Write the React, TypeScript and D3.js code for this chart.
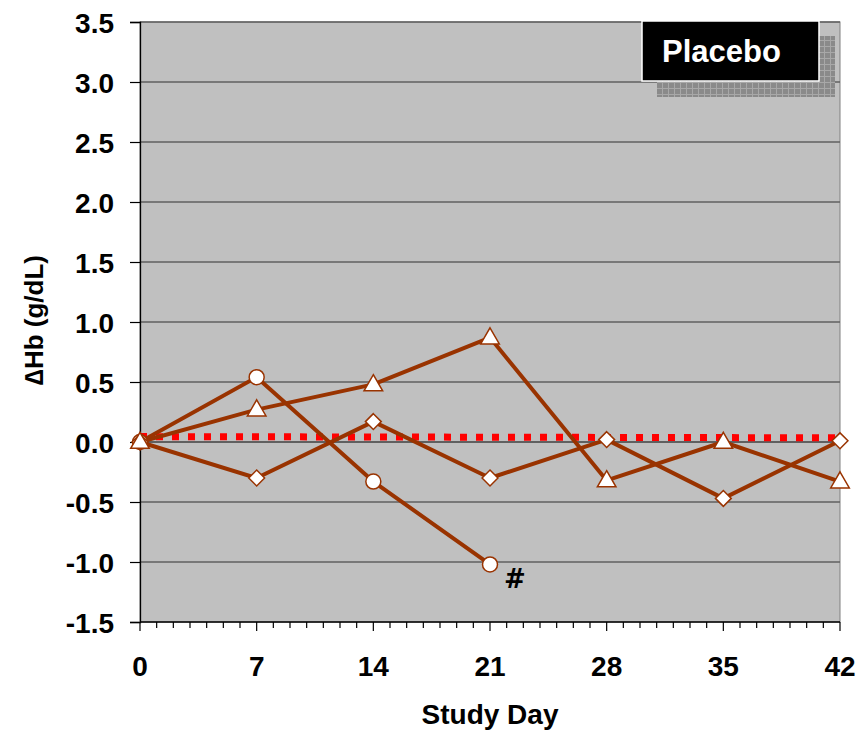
import React, { useRef, useEffect } from 'react';
import * as d3 from 'd3';

// study days and series (change in Hb, g/dL)
const days = [0, 7, 14, 21, 28, 35, 42];
const circleSeries = [0, 0.54, -0.33, -1.02];
const triangleSeries = [0, 0.27, 0.48, 0.87, -0.32, 0.0, -0.33];
const diamondSeries = [0, -0.3, 0.17, -0.3, 0.02, -0.47, 0.01];
const refLine = [0.045, 0.035]; // red dotted baseline, day 0 -> day 42
const yTicks = [-1.5, -1.0, -0.5, 0.0, 0.5, 1.0, 1.5, 2.0, 2.5, 3.0, 3.5];
const minorDays = d3.range(0, 43, 1);

const BROWN = '#993300';
const FONT = 'Liberation Sans, Arial, sans-serif';

const App = () => {
  const svgRef = useRef<SVGSVGElement>(null);

  useEffect(() => {
    const width = 857;
    const height = 731;
    const margin = { top: 22, right: 17, bottom: 109, left: 140 };
    const innerW = width - margin.left - margin.right;
    const innerH = height - margin.top - margin.bottom;

    const svg = d3.select(svgRef.current)
      .attr('width', width)
      .attr('height', height)
      .html('');

    const x = d3.scaleLinear().domain([0, 42]).range([0, innerW]);
    const y = d3.scaleLinear().domain([-1.5, 3.5]).range([innerH, 0]);

    const defs = svg.append('defs');
    const pat = defs.append('pattern')
      .attr('id', 'shadowGrid')
      .attr('width', 6).attr('height', 6)
      .attr('patternUnits', 'userSpaceOnUse');
    pat.append('rect').attr('width', 6).attr('height', 6).attr('fill', '#8a8a8a');
    pat.append('path').attr('d', 'M0 0.5H6M0.5 0V6').attr('stroke', '#a8a8a8').attr('stroke-width', 1);

    const g = svg.append('g').attr('transform', `translate(${margin.left},${margin.top})`);

    // --- plot background ---
    g.append('rect')
      .attr('width', innerW).attr('height', innerH)
      .attr('fill', '#c0c0c0')
      .attr('stroke', '#808080');

    // --- gridlines ---
    g.selectAll('.grid')
      .data(yTicks.filter(t => t !== 0 && t !== -1.5))
      .enter().append('line')
      .attr('x1', 0).attr('x2', innerW)
      .attr('y1', d => y(d)).attr('y2', d => y(d))
      .attr('stroke', '#606060').attr('stroke-width', 1.3);

    g.append('line')
      .attr('x1', 0).attr('x2', innerW)
      .attr('y1', y(0)).attr('y2', y(0))
      .attr('stroke', '#000').attr('stroke-width', 1.2);

    // --- legend box with shadow ---
    const lg = g.append('g');
    lg.append('rect')
      .attr('x', 517).attr('y', 14).attr('width', 178).attr('height', 61)
      .attr('fill', 'url(#shadowGrid)');
    lg.append('rect')
      .attr('x', 502).attr('y', -1).attr('width', 177).attr('height', 60)
      .attr('fill', '#000').attr('stroke', '#fff').attr('stroke-width', 1.5);
    lg.append('text')
      .attr('x', 522).attr('y', 40)
      .attr('fill', '#fff')
      .attr('font-family', FONT)
      .attr('font-weight', 'bold')
      .attr('font-size', 31)
      .text('Placebo');

    // --- axes ---
    const yAxis = d3.axisLeft(y).tickValues(yTicks).tickSize(10).tickPadding(16)
      .tickFormat(d => (d as number).toFixed(1));
    const ya = g.append('g').call(yAxis);
    ya.select('.domain').attr('stroke', '#000').attr('stroke-width', 1.3);
    ya.selectAll('.tick line').attr('stroke', '#000').attr('stroke-width', 1.2);
    ya.selectAll('text')
      .attr('font-family', FONT)
      .attr('font-weight', 'bold').attr('font-size', 28).attr('fill', '#000')
      .attr('dy', '0.36em');

    const xa = g.append('g').attr('transform', `translate(0,${innerH})`);
    xa.append('line').attr('x1', 0).attr('x2', innerW).attr('stroke', '#000').attr('stroke-width', 1.5);
    xa.selectAll('.minor')
      .data(minorDays)
      .enter().append('line')
      .attr('x1', d => x(d)).attr('x2', d => x(d))
      .attr('y1', 0).attr('y2', d => (d % 7 === 0 ? 9 : 6))
      .attr('stroke', '#000').attr('stroke-width', 1.2);
    xa.selectAll('.lbl')
      .data(days)
      .enter().append('text')
      .attr('x', d => x(d)).attr('y', 54)
      .attr('text-anchor', 'middle')
      .attr('font-family', FONT)
      .attr('font-weight', 'bold').attr('font-size', 28)
      .text(d => d);

    // --- axis titles ---
    svg.append('text')
      .attr('x', 490).attr('y', 724)
      .attr('text-anchor', 'middle')
      .attr('font-family', FONT)
      .attr('font-weight', 'bold').attr('font-size', 28)
      .text('Study Day');

    svg.append('text')
      .attr('transform', `translate(43,320) rotate(-90)`)
      .attr('text-anchor', 'middle')
      .attr('font-family', FONT)
      .attr('font-weight', 'bold').attr('font-size', 26)
      .text('\u2206Hb (g/dL)');

    // --- red dotted reference line ---
    g.append('line')
      .attr('x1', x(0)).attr('x2', x(42))
      .attr('y1', y(refLine[0])).attr('y2', y(refLine[1]))
      .attr('stroke', '#ff0000').attr('stroke-width', 7)
      .attr('stroke-dasharray', '7 9');

    // --- series lines ---
    const line = d3.line<number>().x((_, i) => x(days[i])).y(d => y(d));
    [diamondSeries, triangleSeries, circleSeries].forEach(s => {
      g.append('path')
        .attr('d', line(s))
        .attr('fill', 'none')
        .attr('stroke', BROWN)
        .attr('stroke-width', 4)
        .attr('stroke-linejoin', 'round');
    });

    // --- markers ---
    const diamond = d3.symbol().type(d3.symbolDiamond2).size(160);
    const triangle = d3.symbol().type(d3.symbolTriangle).size(150);

    g.selectAll('.circ')
      .data(circleSeries)
      .enter().append('circle')
      .attr('cx', (_, i) => x(days[i])).attr('cy', d => y(d))
      .attr('r', 7.5)
      .attr('fill', '#fff').attr('stroke', BROWN).attr('stroke-width', 1.5);

    g.selectAll('.diam')
      .data(diamondSeries)
      .enter().append('path')
      .attr('d', diamond)
      .attr('transform', (d, i) => `translate(${x(days[i])},${y(d)})`)
      .attr('fill', '#fff').attr('stroke', BROWN).attr('stroke-width', 1.5);

    g.selectAll('.tri')
      .data(triangleSeries)
      .enter().append('path')
      .attr('d', triangle)
      .attr('transform', (d, i) => `translate(${x(days[i])},${y(d) + 1})`)
      .attr('fill', '#fff').attr('stroke', BROWN).attr('stroke-width', 1.5);

    // significance mark
    g.append('text')
      .attr('x', x(21) + 14).attr('y', y(circleSeries[3]) + 24)
      .attr('font-family', 'DejaVu Sans, sans-serif')
      .attr('font-weight', 'bold').attr('font-size', 26)
      .text('#');
  }, []);

  return <svg ref={svgRef} style={{ position: 'absolute', left: 0, top: 0 }}></svg>;
};

export default App;
